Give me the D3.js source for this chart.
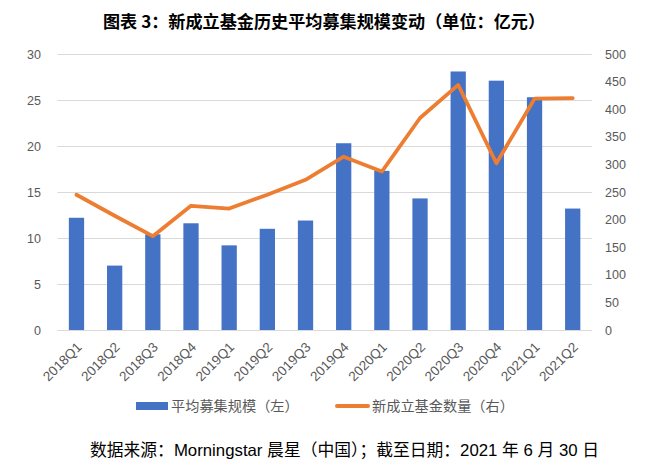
<!DOCTYPE html>
<html><head><meta charset="utf-8">
<script src="https://cdn.jsdelivr.net/npm/d3@7"></script>
<style>body{margin:0;background:#fff}</style>
</head><body>
<script>
const categories = ["2018Q1","2018Q2","2018Q3","2018Q4","2019Q1","2019Q2","2019Q3","2019Q4","2020Q1","2020Q2","2020Q3","2020Q4","2021Q1","2021Q2"];
const avgScale = [12.2,7.0,10.4,11.6,9.2,11.0,11.9,20.3,17.3,14.3,28.1,27.1,25.3,13.2];
const newFunds = [245,207,170,225,220,245,272,314,287,384,444,302,419,420];
const leftTicks = [0,5,10,15,20,25,30];
const rightTicks = [0,50,100,150,200,250,300,350,400,450,500];
const title = "图表 3：新成立基金历史平均募集规模变动（单位：亿元）";
const legendLabels = ["平均募集规模（左）","新成立基金数量（右）"];
const footer = "数据来源：Morningstar 晨星（中国）；截至日期：2021 年 6 月 30 日";

const W=660,H=475;
const svg=d3.select("body").append("svg").attr("width",W).attr("height",H);
const font="'Liberation Sans', Arial, 'Noto Sans CJK SC', sans-serif";
const x=d3.scaleBand().domain(categories).range([57.4,591.8]).paddingInner(0.6).paddingOuter(0.3);
const yL=d3.scaleLinear().domain([0,30]).range([330,54]);
const yR=d3.scaleLinear().domain([0,500]).range([330,54]);

svg.append("text").attr("x",103).attr("y",28)
  .attr("font-family","'Noto Sans CJK SC', sans-serif").attr("font-weight","bold")
  .attr("font-size",17).attr("fill","#000")
  .attr("textLength",442).attr("lengthAdjust","spacingAndGlyphs").text(title);

// gridlines
svg.append("g").selectAll("line").data(leftTicks).join("line")
  .attr("x1",57.4).attr("x2",591.8).attr("y1",d=>Math.round(yL(d))+0.5).attr("y2",d=>Math.round(yL(d))+0.5)
  .attr("stroke","#d9d9d9").attr("stroke-width",1);

// left axis
const gl=svg.append("g").attr("transform","translate(41,0)")
  .call(d3.axisLeft(yL).tickValues(leftTicks).tickSize(0).tickPadding(0));
gl.select(".domain").remove();
gl.selectAll("text").attr("font-family",font).attr("font-size",12.5).attr("fill","#595959");

// right axis
const gr=svg.append("g").attr("transform","translate(605,0)")
  .call(d3.axisRight(yR).tickValues(rightTicks).tickSize(0).tickPadding(0));
gr.select(".domain").remove();
gr.selectAll("text").attr("font-family",font).attr("font-size",12.5).attr("fill","#595959");

// bars
svg.append("g").selectAll("rect").data(categories).join("rect")
  .attr("x",d=>x(d)).attr("width",x.bandwidth())
  .attr("y",(d,i)=>yL(avgScale[i])).attr("height",(d,i)=>yL(0)-yL(avgScale[i]))
  .attr("fill","#4472C4");

// x axis labels
const gx=svg.append("g").attr("transform","translate(0,330)")
  .call(d3.axisBottom(x).tickSize(0).tickPadding(0));
gx.select(".domain").remove();
gx.selectAll("text").attr("font-family",font).attr("font-size",13.5).attr("fill","#595959")
  .attr("text-anchor","end").attr("dy",0)
  .attr("transform","translate(6,18) rotate(-45)");

// line
const line=d3.line().x((d,i)=>x(categories[i])+x.bandwidth()/2).y(d=>yR(d));
svg.append("path").datum(newFunds).attr("d",line).attr("fill","none")
  .attr("stroke","#ED7D31").attr("stroke-width",3.75).attr("stroke-linejoin","round").attr("stroke-linecap","round");

// legend
svg.append("rect").attr("x",136).attr("y",402).attr("width",32).attr("height",8).attr("fill","#4472C4");
svg.append("text").attr("x",171).attr("y",411).attr("font-family","'Noto Sans CJK SC', sans-serif")
  .attr("font-size",14.2).attr("fill","#595959").text(legendLabels[0]);
svg.append("line").attr("x1",337).attr("x2",368).attr("y1",406).attr("y2",406)
  .attr("stroke","#ED7D31").attr("stroke-width",4).attr("stroke-linecap","round");
svg.append("text").attr("x",372).attr("y",411).attr("font-family","'Noto Sans CJK SC', sans-serif")
  .attr("font-size",14.2).attr("fill","#595959").text(legendLabels[1]);

// footer
svg.append("text").attr("x",90).attr("y",456).attr("font-family","'Liberation Sans', 'Noto Sans CJK SC', sans-serif")
  .attr("font-size",16.5).attr("fill","#000")
  .attr("textLength",509).attr("lengthAdjust","spacingAndGlyphs").text(footer);
</script>
</body></html>
